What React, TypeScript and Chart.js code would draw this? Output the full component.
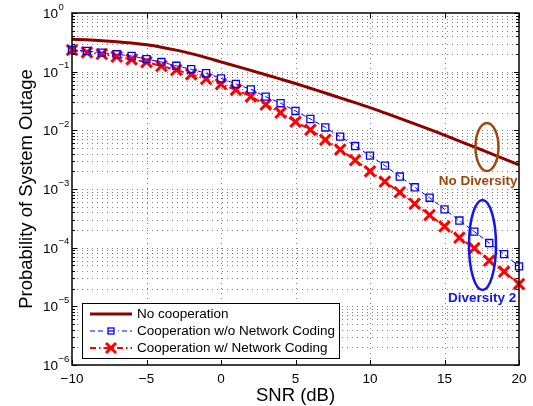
import React, { useEffect, useRef } from 'react';
import { Chart, registerables } from 'chart.js';

Chart.register(...registerables);

// ---------------- data ----------------
const snr = [-10, -9, -8, -7, -6, -5, -4, -3, -2, -1, 0, 1, 2, 3, 4, 5, 6, 7, 8, 9, 10, 11, 12, 13, 14, 15, 16, 17, 18, 19, 20];

const noCooperation = [
  0.3565, 0.3483, 0.3373, 0.3236, 0.3069, 0.2864, 0.2612, 0.2328, 0.2028, 0.1738,
  0.1469, 0.1245, 0.1052, 0.0887, 0.0746, 0.0627, 0.0521, 0.0433, 0.0358, 0.0296,
  0.0244, 0.0198, 0.0160, 0.0129, 0.01035, 0.00826, 0.00656, 0.00521, 0.00413, 0.00327,
  0.00258,
];

const coopWithoutNC = [
  0.234, 0.225, 0.211, 0.198, 0.185, 0.164, 0.146, 0.126, 0.110, 0.094,
  0.077, 0.0617, 0.050, 0.0375, 0.029, 0.0214, 0.0156, 0.0112, 0.0078, 0.0054,
  0.0037, 0.0025, 0.00163, 0.00107, 0.00071, 0.00045, 0.00029, 0.000188, 0.00012, 0.0000775,
  0.000048,
];

const coopWithNC = [
  0.234, 0.214, 0.200, 0.180, 0.162, 0.146, 0.125, 0.107, 0.090, 0.075,
  0.061, 0.049, 0.0376, 0.0275, 0.020, 0.014, 0.0102, 0.0069, 0.0047, 0.0031,
  0.0020, 0.00134, 0.00088, 0.00056, 0.00036, 0.00023, 0.000148, 0.000098, 0.000060, 0.000039,
  0.000024,
];

const seriesLabels = ['No cooperation', 'Cooperation w/o Network Coding', 'Cooperation w/ Network Coding'];
const xTickValues = [-10, -5, 0, 5, 10, 15, 20];
const yTickExponents = [0, -1, -2, -3, -4, -5, -6];
const xTitle = 'SNR (dB)';
const yTitle = 'Probability of System Outage';

// annotations (data coordinates)
const noDiversityMark = { x: 17.85, y: 0.0052, text: 'No Diversity', textX: 17.25, textY: 0.00137 };
const diversity2Mark = { x: 17.55, y: 0.000111, text: 'Diversity 2', textX: 17.52, textY: 0.0000139 };

// ---------------- styles ----------------
const FONT = '"Liberation Sans", Arial, Helvetica, sans-serif';
const DARK_RED = 'rgb(140,0,0)';
const BLUE = 'rgb(0,0,255)';
const RED = 'rgb(255,0,0)';
const BROWN = 'rgb(156,72,14)';
const ANN_BLUE = 'rgb(20,20,240)';

const fmt = (v: number) => (v < 0 ? '\u2212' + Math.abs(v) : String(v));

const matlabPlugin = {
  id: 'matlabAxes',
  beforeDatasetsDraw(chart: any) {
    const { ctx, chartArea: a, scales } = chart;
    const x = scales.x;
    const y = scales.y;
    ctx.save();
    ctx.strokeStyle = 'rgba(0,0,0,0.5)';
    ctx.lineWidth = 1;
    ctx.setLineDash([1, 4]);
    for (const t of xTickValues) {
      const px = Math.round(x.getPixelForValue(t)) + 0.5;
      if (px <= a.left + 1 || px >= a.right - 1) continue;
      ctx.beginPath();
      ctx.moveTo(px, a.top);
      ctx.lineTo(px, a.bottom);
      ctx.stroke();
    }
    for (let e = -6; e < 0; e++) {
      for (let m = 1; m <= 9; m++) {
        const v = m * Math.pow(10, e);
        const py = Math.round(y.getPixelForValue(v)) + 0.5;
        if (py <= a.top + 1 || py >= a.bottom - 1) continue;
        ctx.beginPath();
        ctx.moveTo(a.left, py);
        ctx.lineTo(a.right, py);
        ctx.stroke();
      }
    }
    ctx.restore();
  },
  afterDatasetsDraw(chart: any) {
    const { ctx, chartArea: a, scales } = chart;
    const x = scales.x;
    const y = scales.y;
    ctx.save();
    ctx.setLineDash([]);
    // frame
    ctx.strokeStyle = '#000';
    ctx.lineWidth = 1.5;
    ctx.strokeRect(a.left, a.top, a.right - a.left, a.bottom - a.top);
    // ticks
    ctx.lineWidth = 1;
    ctx.beginPath();
    for (const t of xTickValues) {
      const px = Math.round(x.getPixelForValue(t)) + 0.5;
      ctx.moveTo(px, a.bottom);
      ctx.lineTo(px, a.bottom - 5);
      ctx.moveTo(px, a.top);
      ctx.lineTo(px, a.top + 5);
    }
    for (let e = -6; e <= 0; e++) {
      for (let m = 1; m <= 9; m++) {
        if (e === 0 && m > 1) break;
        const v = m * Math.pow(10, e);
        const py = Math.round(y.getPixelForValue(v)) + 0.5;
        const len = m === 1 ? 5 : 3;
        ctx.moveTo(a.left, py);
        ctx.lineTo(a.left + len, py);
        ctx.moveTo(a.right, py);
        ctx.lineTo(a.right - len, py);
      }
    }
    ctx.stroke();

    // x tick labels
    ctx.fillStyle = '#000';
    ctx.font = `13.5px ${FONT}`;
    ctx.textAlign = 'center';
    ctx.textBaseline = 'alphabetic';
    for (const t of xTickValues) {
      ctx.fillText(fmt(t), x.getPixelForValue(t), a.bottom + 18);
    }
    // y tick labels 10^e
    ctx.textAlign = 'left';
    for (const e of yTickExponents) {
      const py = y.getPixelForValue(Math.pow(10, e));
      ctx.font = `13.5px ${FONT}`;
      ctx.fillText('10', 43, py + 5);
      const w = ctx.measureText('10').width;
      ctx.font = `9.5px ${FONT}`;
      ctx.fillText(fmt(e), 43 + w + 0.5, py - 3.5);
    }
    // titles
    ctx.font = `18.5px ${FONT}`;
    ctx.textAlign = 'center';
    ctx.fillText(xTitle, (a.left + a.right) / 2, 401);
    ctx.save();
    ctx.translate(31.5, (a.top + a.bottom) / 2);
    ctx.rotate(-Math.PI / 2);
    ctx.fillText(yTitle, 0, 0);
    ctx.restore();

    // annotations
    const drawAnn = (mk: any, color: string, rx: number, ry: number) => {
      const cx = x.getPixelForValue(mk.x);
      const cy = y.getPixelForValue(mk.y);
      ctx.strokeStyle = color;
      ctx.lineWidth = 2.5;
      ctx.beginPath();
      ctx.ellipse(cx, cy, rx, ry, 0, 0, Math.PI * 2);
      ctx.stroke();
      ctx.fillStyle = color;
      ctx.font = `bold 13.5px ${FONT}`;
      ctx.textAlign = 'center';
      ctx.textBaseline = 'middle';
      ctx.fillText(mk.text, x.getPixelForValue(mk.textX), y.getPixelForValue(mk.textY));
    };
    drawAnn(noDiversityMark, BROWN, 11.5, 24);
    drawAnn(diversity2Mark, ANN_BLUE, 13.5, 45);

    // legend
    const lx = 82, ly = 303, lw = 257, lh = 55;
    ctx.fillStyle = '#fff';
    ctx.fillRect(lx, ly, lw, lh);
    ctx.strokeStyle = '#000';
    ctx.lineWidth = 1;
    ctx.setLineDash([]);
    ctx.strokeRect(lx + 0.5, ly + 0.5, lw, lh);
    const rows = [314, 331, 348];
    const ds = chart.data.datasets;
    for (let i = 0; i < ds.length; i++) {
      const d = ds[i];
      const ry = rows[i];
      ctx.save();
      ctx.strokeStyle = d.borderColor;
      ctx.lineWidth = d.borderWidth;
      ctx.setLineDash(d.borderDash || []);
      ctx.beginPath();
      ctx.moveTo(90, ry);
      ctx.lineTo(132, ry);
      ctx.stroke();
      ctx.setLineDash([]);
      const cx = 111;
      if (d.pointStyle === 'rect') {
        ctx.fillStyle = '#fff';
        ctx.fillRect(cx - 7, ry - 5, 14, 10);
        ctx.lineWidth = 1.3;
        ctx.strokeRect(cx - 3, ry - 3, 6, 6);
        ctx.beginPath();
        ctx.moveTo(cx - 3, ry);
        ctx.lineTo(cx + 3, ry);
        ctx.stroke();
      } else if (d.pointStyle === 'crossRot') {
        ctx.lineWidth = 3;
        ctx.beginPath();
        ctx.moveTo(cx - 5, ry - 5);
        ctx.lineTo(cx + 5, ry + 5);
        ctx.moveTo(cx + 5, ry - 5);
        ctx.lineTo(cx - 5, ry + 5);
        ctx.stroke();
      }
      ctx.restore();
      ctx.fillStyle = '#000';
      ctx.font = `13.5px ${FONT}`;
      ctx.textAlign = 'left';
      ctx.textBaseline = 'middle';
      ctx.fillText(seriesLabels[i], 137, ry + 0.5);
    }
    ctx.restore();
  },
};

export default function App() {
  const canvasRef = useRef<HTMLCanvasElement | null>(null);

  useEffect(() => {
    document.body.style.margin = '0';
    const canvas = canvasRef.current;
    if (!canvas) return;
    const toPts = (vals: number[]) => snr.map((s, i) => ({ x: s, y: vals[i] }));
    const chart = new Chart(canvas, {
      type: 'line',
      data: {
        datasets: [
          {
            label: seriesLabels[0],
            data: toPts(noCooperation),
            borderColor: DARK_RED,
            borderWidth: 3,
            pointRadius: 0,
            cubicInterpolationMode: 'monotone',
            fill: false,
          },
          {
            label: seriesLabels[1],
            data: toPts(coopWithoutNC),
            borderColor: BLUE,
            borderWidth: 1,
            borderDash: [5, 3],
            pointStyle: 'rect',
            pointRadius: 5,
            pointBorderWidth: 1.3,
            pointBorderColor: BLUE,
            pointBackgroundColor: 'rgba(0,0,0,0)',
            fill: false,
            clip: false,
          },
          {
            label: seriesLabels[2],
            data: toPts(coopWithNC),
            borderColor: RED,
            borderWidth: 2,
            borderDash: [6, 3, 1.5, 3],
            pointStyle: 'crossRot',
            pointRadius: 7.5,
            pointBorderWidth: 3,
            pointBorderColor: RED,
            fill: false,
            clip: false,
          },
        ] as any,
      },
      options: {
        animation: false,
        responsive: false,
        devicePixelRatio: 1,
        layout: { padding: { top: 13, right: 14, left: 0, bottom: 0 } },
        plugins: { legend: { display: false }, tooltip: { enabled: false } },
        scales: {
          x: {
            type: 'linear',
            min: -10,
            max: 20,
            ticks: { display: false, stepSize: 5 },
            grid: { display: false },
            border: { display: false },
            afterFit: (s: any) => { s.height = 41; },
          },
          y: {
            type: 'logarithmic',
            min: 1e-6,
            max: 1,
            ticks: { display: false },
            grid: { display: false },
            border: { display: false },
            afterFit: (s: any) => { s.width = 72; },
          },
        },
      } as any,
      plugins: [matlabPlugin],
    });
    return () => chart.destroy();
  }, []);

  return (
    <div style={{ width: 533, height: 406 }}>
      <canvas ref={canvasRef} width={533} height={406} style={{ display: 'block' }} />
    </div>
  );
}
